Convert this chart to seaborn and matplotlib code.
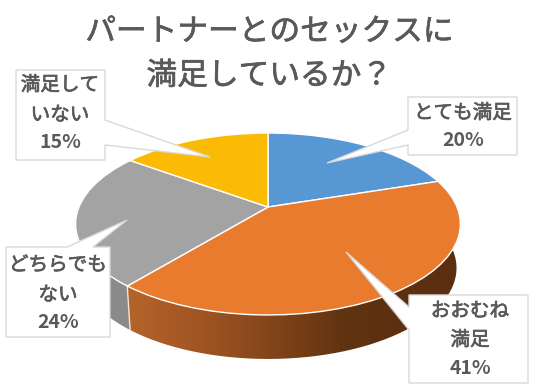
import numpy as np
import matplotlib
matplotlib.use("Agg")
import matplotlib.pyplot as plt
import matplotlib.patheffects as pe
import seaborn as sns
from matplotlib.colors import LinearSegmentedColormap
from matplotlib.patches import PathPatch, Polygon
from matplotlib.path import Path
from matplotlib.transforms import Transform

# --- data ---
categories = ["とても満足", "おおむね満足", "どちらでもない", "満足していない"]
values = [20, 41, 24, 15]
label_lines = [["とても満足"], ["おおむね", "満足"], ["どちらでも", "ない"], ["満足して", "いない"]]
title_lines = ["パートナーとのセックスに", "満足しているか？"]
slice_colors = ["#5797D3", "#E97B2E", "#A3A3A3", "#FBBB05"]

sns.set_theme(style="white")
plt.rcParams["font.family"] = ["Noto Sans CJK JP", "DejaVu Sans"]
TEXT = "#595959"
EDGE = "#D9D9D9"

# --- perspective of the pie plane ---
CX, CY, A, B, K = 268.0, 207.0, 189.0, 87.8, 0.1867
DEPTH, SHRINK = 44.0, 0.98


class Perspective(Transform):
    input_dims = 2
    output_dims = 2
    is_separable = False

    def transform_non_affine(self, xy):
        xy = np.asarray(xy, dtype=float)
        s = 1.0 / (1.0 + K * xy[:, 1])
        return np.column_stack([CX + A * xy[:, 0] * s, CY - B * xy[:, 1] * s])

    def inverted(self):
        raise NotImplementedError


persp = Perspective()


def rim(frac_from, frac_to, n=120):
    a = np.linspace(frac_from, frac_to, n) * 2 * np.pi
    return persp.transform_non_affine(np.column_stack([np.sin(a), np.cos(a)]))


def lowered(pts):
    return np.column_stack([CX + (pts[:, 0] - CX) * SHRINK, pts[:, 1] + DEPTH])


fig = plt.figure(figsize=(5.4, 3.88), dpi=100, facecolor="white")
ax = fig.add_axes([0, 0, 1, 1])

wedges, _ = ax.pie(values, colors=slice_colors, startangle=90, counterclock=False,
                   wedgeprops=dict(edgecolor="white", linewidth=1.0, zorder=4))
for w in wedges:
    w.set_transform(persp + ax.transData)

ax.set_aspect("auto")
ax.set_xlim(0, 540)
ax.set_ylim(388, 0)
ax.axis("off")

# --- side walls ---
cum = np.cumsum([0] + values) / sum(values)

# orange wall, gradient fill
pts = rim(cum[1], cum[2])
wall = np.vstack([pts, lowered(pts)[::-1]])
grad_cmap = LinearSegmentedColormap.from_list(
    "wall", [(0.0, "#B5632A"), (0.22, "#A05522"), (0.43, "#82451A"),
             (0.66, "#5F3210"), (1.0, "#5A2F0F")])
im = ax.imshow(np.linspace(0, 1, 256)[None, :], cmap=grad_cmap, aspect="auto",
               extent=(128, 462, 388, 150), zorder=2)
clip = PathPatch(Path(np.vstack([wall, wall[:1]])), transform=ax.transData,
                 facecolor="none", edgecolor="none")
ax.add_patch(clip)
im.set_clip_path(clip)
ax.set_xlim(0, 540)
ax.set_ylim(388, 0)

# grey wall
pts = rim(cum[2], cum[3])
ax.add_patch(Polygon(np.vstack([pts, lowered(pts)[::-1]]), closed=True,
                     facecolor="#8A8A8A", edgecolor="none", zorder=1))

# white seam between walls
first = rim(cum[2], cum[2], 1)
ax.plot([first[0, 0], lowered(first)[0, 0]], [first[0, 1], lowered(first)[0, 1]],
        color="#F6E3D6", lw=1.0, zorder=3)


# --- callouts ---
def callout(outline):
    ax.add_patch(Polygon(outline, closed=True, facecolor="white", edgecolor=EDGE,
                         linewidth=1.0, zorder=6, joinstyle="miter"))


callout([(408, 97), (517, 97), (517, 155), (408, 155), (408, 145), (327, 163), (408, 130)])
callout([(409, 295), (528, 295), (528, 383), (409, 383), (409, 330), (346, 252), (409, 307)])
callout([(6, 247), (67, 247), (127, 220), (93, 247), (110, 247), (110, 337), (6, 337)])
callout([(16, 70), (105, 70), (105, 120), (210, 157), (105, 145), (105, 160), (16, 160)])

heavy = [pe.withStroke(linewidth=0.5, foreground=TEXT)]
label_pos = [(463, [113]), (470, [311, 340]), (58, [265, 295]), (60, [85, 115])]
pct_y = [141, 368, 322, 143]
for lines, val, (x, ys), py in zip(label_lines, values, label_pos, pct_y):
    for line, y in zip(lines, ys):
        ax.text(x, y, line, ha="center", va="center", fontsize=14.1,
                color=TEXT, path_effects=heavy, zorder=7)
    ax.text(x, py, f"{val}%", ha="center", va="center", fontsize=14,
            color=TEXT, fontweight="bold", zorder=7)

for line, y in zip(title_lines, [32, 76]):
    ax.text(269, y, line, ha="center", va="center", fontsize=22.1, color=TEXT,
            path_effects=heavy, zorder=7)

fig.savefig("out.png", dpi=100, facecolor="white")
